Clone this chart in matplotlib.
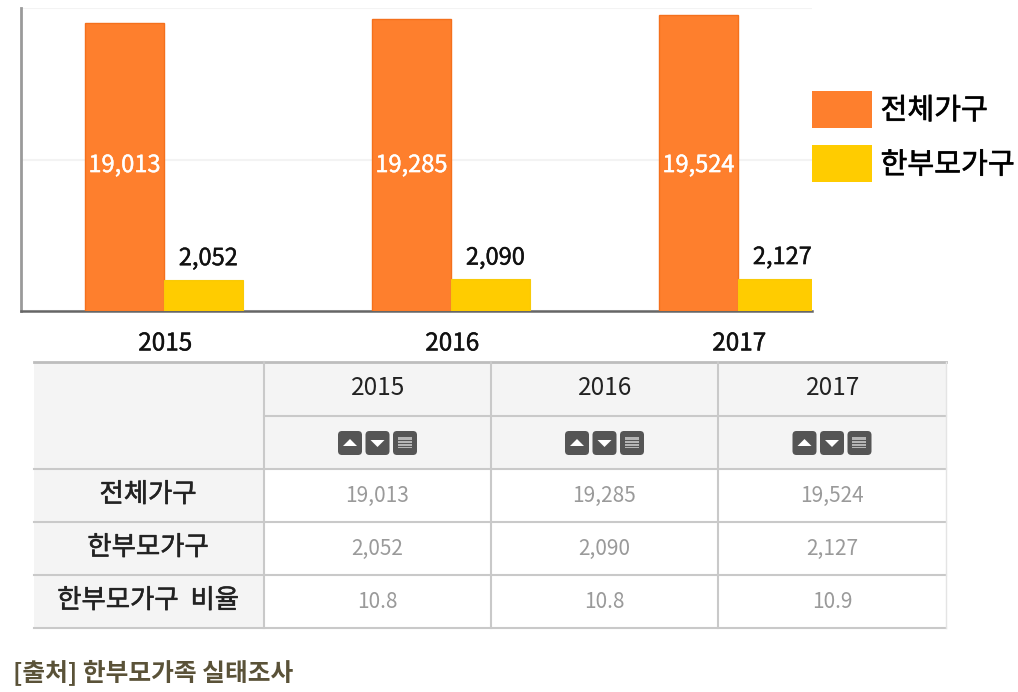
import matplotlib
matplotlib.use('Agg')
import matplotlib.pyplot as plt
import matplotlib.patheffects as pe
from matplotlib.patches import Rectangle, FancyBboxPatch, Polygon

plt.rcParams['font.family'] = ['Noto Sans CJK KR', 'DejaVu Sans']

# data
years = ['2015', '2016', '2017']
total = [19013, 19285, 19524]
single = [2052, 2090, 2127]
ratio = ['10.8', '10.8', '10.9']
names = ['전체가구', '한부모가구']
row_names = ['전체가구', '한부모가구', '한부모가구  비율']
source = '[출처] 한부모가족 실태조사'

W, H = 1018, 692
orange = '#fe7f2d'
yellow = '#ffcc00'
line_c = '#c9c9c9'
head_c = '#f4f4f4'


# the reference text is a bit heavier than regular
def heavy(color, lw=0.5):
    return [pe.withStroke(linewidth=lw, foreground=color)]


fig = plt.figure(figsize=(W / 100, H / 100), dpi=100)

# chart part
ax = fig.add_axes([21 / W, (H - 311) / H, 791 / W, 303 / H])
w = 0.275
xs = range(len(years))
ax.bar([x - w / 2 for x in xs], total, w, color=orange, edgecolor='#f4701c', linewidth=1,
       label=names[0], zorder=3)
ax.bar([x + w / 2 for x in xs], single, w, color=yellow, edgecolor='#f8ca08', linewidth=0.8,
       label=names[1], zorder=3)
ax.set_xlim(-0.498, 2.258)
ax.set_ylim(0, 20000)
ax.set_yticks([0, 10000, 20000])
ax.tick_params(axis='y', length=0, labelleft=False)
ax.tick_params(axis='x', length=0, pad=14)
ax.set_xticks([x + 0.005 for x in xs])
ax.set_xticklabels(years, fontsize=17.5, color='#111111', path_effects=heavy('#111111', 0.3))
ax.grid(axis='y', color='#f3f3f3', linewidth=1.5, zorder=0)
for s in ['top', 'right']:
    ax.spines[s].set_visible(False)
ax.spines['left'].set_color('#9a9a9a')
ax.spines['left'].set_linewidth(2)
ax.spines['bottom'].set_color('#666666')
ax.spines['bottom'].set_linewidth(1.8)

for x, t, s in zip(xs, total, single):
    ax.text(x - w / 2, 9600, f'{t:,}', color='white', fontsize=17, ha='center', va='center', zorder=4,
            path_effects=heavy('white', 0.3))
    ax.annotate(f'{s:,}', (x + w / 2, s), xytext=(3.5, 7), textcoords='offset points',
                fontsize=17, color='#111111', ha='center', va='bottom', zorder=4,
                annotation_clip=False, path_effects=heavy('#111111', 0.3))

leg = ax.legend(loc='upper left', bbox_to_anchor=(812 / W, (H - 91) / H), bbox_transform=fig.transFigure,
                frameon=False, fontsize=21, handlelength=2.05, handleheight=1.57, labelspacing=0.6,
                handletextpad=0.3, borderpad=0, borderaxespad=0)
for t in leg.get_texts():
    t.set_path_effects(heavy('#111111', 0.5))
for p in leg.get_patches():
    p.set_linewidth(0)

# table part, in pixel coordinates
tb = fig.add_axes([0, 0, 1, 1], zorder=-1)
tb.set_xlim(0, W)
tb.set_ylim(H, 0)
tb.axis('off')

col_x = [34, 264, 491, 718, 946]
row_y = [362, 416, 469, 522, 575, 628]

tb.add_patch(Rectangle((col_x[0], row_y[0]), col_x[1] - col_x[0], row_y[-1] - row_y[0], fc=head_c, ec='none'))
tb.add_patch(Rectangle((col_x[1], row_y[0]), col_x[-1] - col_x[1], row_y[2] - row_y[0], fc=head_c, ec='none'))

tb.plot([col_x[0], col_x[-1]], [row_y[0], row_y[0]], color='#bdbdbd', lw=2)
tb.plot([col_x[1], col_x[-1]], [row_y[1], row_y[1]], color=line_c, lw=1.5)
for y in row_y[2:]:
    tb.plot([col_x[0], col_x[-1]], [y, y], color=line_c, lw=1.5)
for x in col_x[1:4]:
    tb.plot([x, x], [row_y[0], row_y[-1]], color=line_c, lw=1.5)
tb.plot([col_x[-1], col_x[-1]], [row_y[0], row_y[-1]], color='#e4e4e4', lw=1)

for i, yr in enumerate(years):
    cx = (col_x[i + 1] + col_x[i + 2]) / 2
    tb.text(cx + 1, 388, yr, fontsize=17.5, color='#222222', ha='center', va='center')
    # sort buttons
    for j, dx in enumerate([-27.5, 0, 27.5]):
        bx = cx + dx
        tb.add_patch(FancyBboxPatch((bx - 10.5, 432.5), 21, 21, boxstyle='round,pad=1.5,rounding_size=4',
                                    fc='#555555', ec='none'))
        if j == 0:
            tb.add_patch(Polygon([(bx - 7, 446), (bx + 7, 446), (bx, 439)], fc='white', ec='none'))
        elif j == 1:
            tb.add_patch(Polygon([(bx - 7, 440), (bx + 7, 440), (bx, 447)], fc='white', ec='none'))
        else:
            tb.add_patch(Rectangle((bx - 7, 437), 14, 11, fc='#b5b5b5', ec='none'))
            for ly in [440, 443, 446]:
                tb.plot([bx - 7, bx + 7], [ly - 0.5, ly - 0.5], color='#555555', lw=0.7)
    vals = [f'{total[i]:,}', f'{single[i]:,}', ratio[i]]
    for k, v in enumerate(vals):
        tb.text(cx, (row_y[k + 2] + row_y[k + 3]) / 2, v, fontsize=15, color='#9a9a9a',
                ha='center', va='center')

for k, nm in enumerate(row_names):
    tb.text((col_x[0] + col_x[1]) / 2 - 1, (row_y[k + 2] + row_y[k + 3]) / 2 - 1, nm, fontsize=19,
            color='#222222', ha='center', va='center', path_effects=heavy('#222222', 0.4))

tb.text(13, 672, source, fontsize=17.8, color='#5a5238', fontweight='bold', ha='left', va='center')

fig.savefig('out.png', dpi=100)
